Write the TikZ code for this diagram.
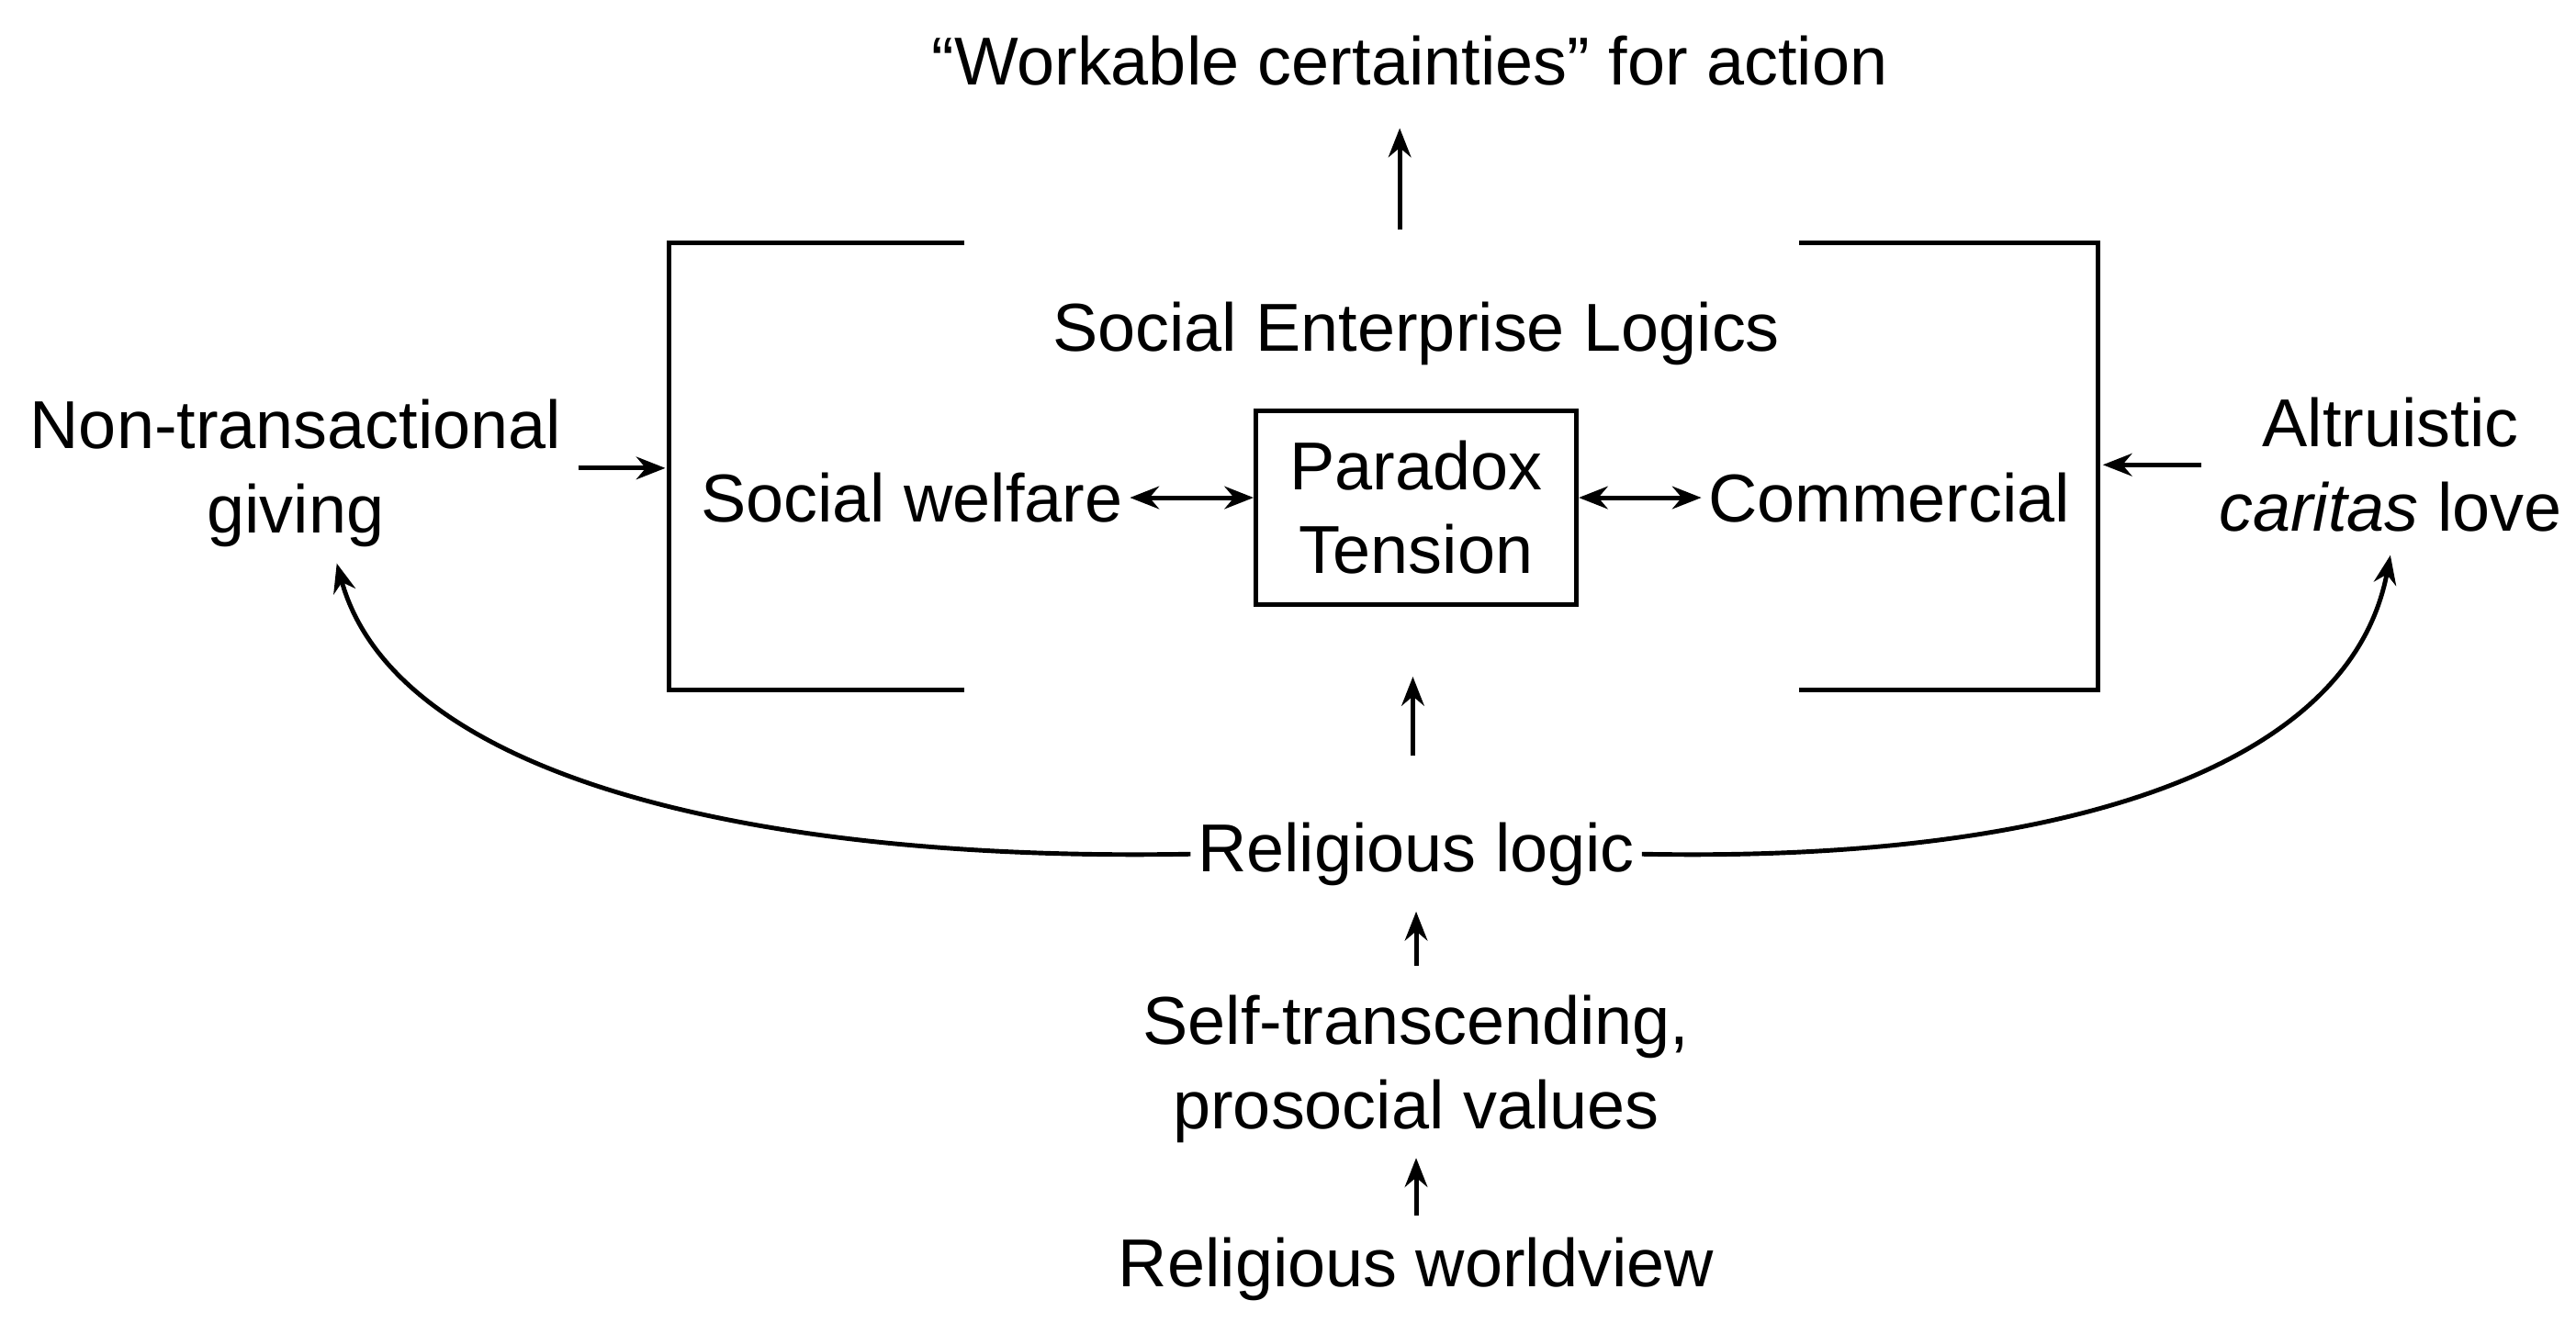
\documentclass[tikz,border=0pt]{standalone}
\usepackage{fontspec}
\setmainfont{Liberation Sans}
\usetikzlibrary{arrows.meta}
\begin{document}
\begin{tikzpicture}[x=0.01789cm,y=-0.01789cm,
  lbl/.style={font=\fontsize{21}{26}\selectfont,inner sep=2pt,align=center},
  ln/.style={line width=1.4pt},
  arr/.style={ln,-{Stealth[length=9pt,width=7pt]}},
  darr/.style={ln,{Stealth[length=9pt,width=7pt]}-{Stealth[length=9pt,width=7pt]}}]
\useasboundingbox (0,0) rectangle (1568,812);
\node[lbl] (work) at (858,37) {``Workable certainties'' for action};
\coordinate (wbot) at (852,140);
\coordinate (wtop) at (852,78);
\draw[arr] (wbot) -- (wtop);
\draw[ln] (587,148) -- (407,148) -- (407,420) -- (587,420);
\draw[ln] (1095,148) -- (1277,148) -- (1277,420) -- (1095,420);
\node[lbl] (sel) at (862,203) {Social Enterprise Logics};
\node[lbl,draw,line width=1.4pt,minimum width=3.49cm,minimum height=2.11cm] (pt) at (862,309) {Paradox\\Tension};
\node[lbl] (sw) at (555,303) {Social welfare};
\node[lbl] (com) at (1150,303) {Commercial};
\draw[darr] (sw.east) -- (pt.west |- sw.east);
\draw[darr] (pt.east |- com.west) -- (com.west);
\node[lbl] (ntg) at (180,288) {Non-transactional\\giving};
\coordinate (lb) at (405,285);
\coordinate (la) at (352,285);
\draw[arr] (la) -- (lb);
\node[lbl] (alt) at (1455,283) {Altruistic\\\textit{caritas} love};
\coordinate (rb) at (1280,283);
\coordinate (ra) at (1340,283);
\draw[arr] (ra) -- (rb);
\node[lbl] (rl) at (862,520) {Religious logic};
\coordinate (ua) at (860,460);
\coordinate (ub) at (860,412);
\draw[arr] (ua) -- (ub);
\coordinate (lt) at (205,343);
\coordinate (rt) at (1455,338);
\draw[arr] (rl.west) .. controls (450,525) and (240,470) .. (lt);
\draw[arr] (rl.east) .. controls (1250,525) and (1430,470) .. (rt);
\node[lbl] (st) at (862,651) {Self-transcending,\\prosocial values};
\coordinate (s1) at (862,588);
\coordinate (s2) at (862,555);
\draw[arr] (s1) -- (s2);
\node[lbl] (rw) at (862,773) {Religious worldview};
\coordinate (w1) at (862,740);
\coordinate (w2) at (862,705);
\draw[arr] (w1) -- (w2);
\end{tikzpicture}
\end{document}
